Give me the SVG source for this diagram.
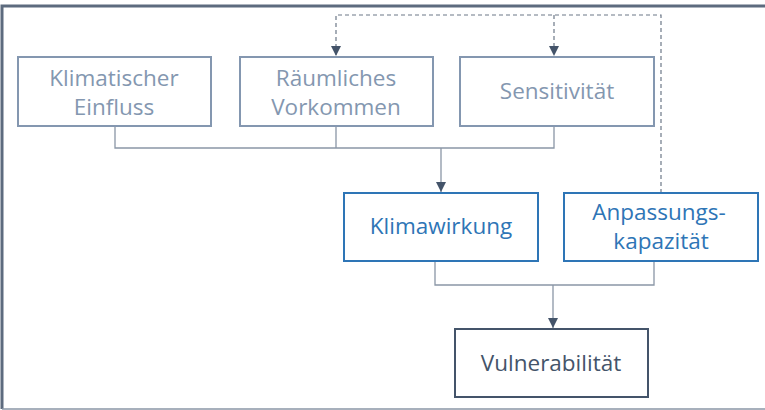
<svg xmlns="http://www.w3.org/2000/svg" width="765" height="410" viewBox="0 0 765 410">
<style>
.frame{fill:none;stroke:#5d6b7e}
.box{fill:#fff;stroke-width:2}
.g{stroke:#8497b0}
.b{stroke:#2e75b6}
.d{stroke:#44546a}
text{font-family:"Open Sans","Noto Sans","Liberation Sans",sans-serif;font-size:22.5px;text-anchor:middle}
.tg{fill:#8497b0}
.tb{fill:#2e75b6}
.td{fill:#44546a}
.conn{fill:none;stroke:#8a96a6;stroke-width:1.3}
.dash{fill:none;stroke:#6d7888;stroke-width:1.2;stroke-dasharray:4 3}
</style>
<defs>
<marker id="arr" viewBox="0 0 10 10" refX="10" refY="5" markerWidth="10" markerHeight="10" markerUnits="userSpaceOnUse" orient="auto">
<path d="M0,0 L10,5 L0,10 z" fill="#44546a"/>
</marker>
</defs>
<rect x="-1" y="-1" width="767" height="412" fill="#fff"/>
<path class="frame" d="M765,6 H2 V409" stroke-width="3"/>
<path d="M2,409 H765" stroke="#8a96a6" stroke-width="1.5"/>
<g id="connectors">
<path class="conn" d="M115,126 V148 H554 V126 M336,126 V148"/>
<path class="conn" d="M441,148 V192" marker-end="url(#arr)"/>
<path class="conn" d="M435,261 V285 H654 V261"/>
<path class="conn" d="M553,285 V328" marker-end="url(#arr)"/>
<path class="dash" d="M661,193 V15 H336 V56" marker-end="url(#arr)"/>
<path class="dash" d="M554,15 V56" marker-end="url(#arr)"/>
</g>
<g id="klimatischer-einfluss">
<rect class="box g" x="18" y="57" width="193" height="69"/>
<text class="tg" x="114" y="86">Klimatischer</text>
<text class="tg" x="114" y="115">Einfluss</text>
</g>
<g id="raeumliches-vorkommen">
<rect class="box g" x="240" y="57" width="193" height="69"/>
<text class="tg" x="336" y="86">Räumliches</text>
<text class="tg" x="336" y="115">Vorkommen</text>
</g>
<g id="sensitivitaet">
<rect class="box g" x="460" y="57" width="194" height="69"/>
<text class="tg" x="557" y="99">Sensitivität</text>
</g>
<g id="klimawirkung">
<rect class="box b" x="344" y="193" width="194" height="68"/>
<text class="tb" x="441" y="234">Klimawirkung</text>
</g>
<g id="anpassungskapazitaet">
<rect class="box b" x="564" y="193" width="194" height="68"/>
<text class="tb" x="659" y="220">Anpassungs-</text>
<text class="tb" x="661" y="249">kapazität</text>
</g>
<g id="vulnerabilitaet">
<rect class="box d" x="455" y="329" width="193" height="68"/>
<text class="td" x="551" y="371">Vulnerabilität</text>
</g>
</svg>
